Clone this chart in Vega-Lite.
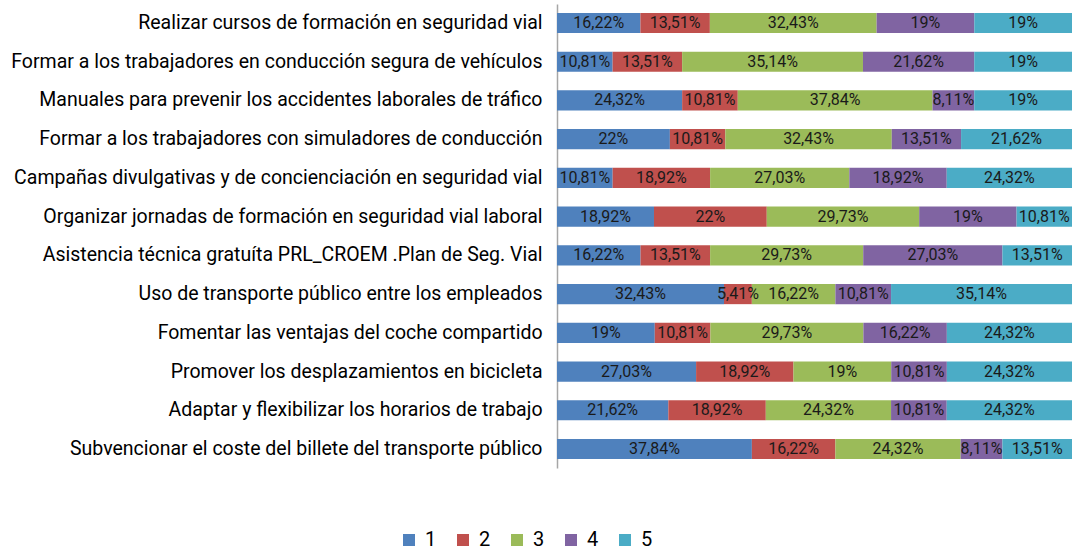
{
  "$schema": "https://vega.github.io/schema/vega-lite/v6.json",
  "width": 515,
  "height": 464,
  "autosize": "none",
  "padding": {"left": 557, "top": 4, "right": 11, "bottom": 82},
  "background": "white",
  "config": {"view": {"stroke": null}, "font": "Roboto"},
  "data": {"values": [
    {"cat": "Realizar cursos de formación en seguridad vial", "s": "1", "p": 16.22},
    {"cat": "Realizar cursos de formación en seguridad vial", "s": "2", "p": 13.51},
    {"cat": "Realizar cursos de formación en seguridad vial", "s": "3", "p": 32.43},
    {"cat": "Realizar cursos de formación en seguridad vial", "s": "4", "p": 19},
    {"cat": "Realizar cursos de formación en seguridad vial", "s": "5", "p": 19},
    {"cat": "Formar a los trabajadores en conducción segura de vehículos", "s": "1", "p": 10.81},
    {"cat": "Formar a los trabajadores en conducción segura de vehículos", "s": "2", "p": 13.51},
    {"cat": "Formar a los trabajadores en conducción segura de vehículos", "s": "3", "p": 35.14},
    {"cat": "Formar a los trabajadores en conducción segura de vehículos", "s": "4", "p": 21.62},
    {"cat": "Formar a los trabajadores en conducción segura de vehículos", "s": "5", "p": 19},
    {"cat": "Manuales para prevenir los accidentes laborales de tráfico", "s": "1", "p": 24.32},
    {"cat": "Manuales para prevenir los accidentes laborales de tráfico", "s": "2", "p": 10.81},
    {"cat": "Manuales para prevenir los accidentes laborales de tráfico", "s": "3", "p": 37.84},
    {"cat": "Manuales para prevenir los accidentes laborales de tráfico", "s": "4", "p": 8.11},
    {"cat": "Manuales para prevenir los accidentes laborales de tráfico", "s": "5", "p": 19},
    {"cat": "Formar a los trabajadores con simuladores de conducción", "s": "1", "p": 22},
    {"cat": "Formar a los trabajadores con simuladores de conducción", "s": "2", "p": 10.81},
    {"cat": "Formar a los trabajadores con simuladores de conducción", "s": "3", "p": 32.43},
    {"cat": "Formar a los trabajadores con simuladores de conducción", "s": "4", "p": 13.51},
    {"cat": "Formar a los trabajadores con simuladores de conducción", "s": "5", "p": 21.62},
    {"cat": "Campañas divulgativas y de concienciación en seguridad vial", "s": "1", "p": 10.81},
    {"cat": "Campañas divulgativas y de concienciación en seguridad vial", "s": "2", "p": 18.92},
    {"cat": "Campañas divulgativas y de concienciación en seguridad vial", "s": "3", "p": 27.03},
    {"cat": "Campañas divulgativas y de concienciación en seguridad vial", "s": "4", "p": 18.92},
    {"cat": "Campañas divulgativas y de concienciación en seguridad vial", "s": "5", "p": 24.32},
    {"cat": "Organizar jornadas de formación en seguridad vial laboral", "s": "1", "p": 18.92},
    {"cat": "Organizar jornadas de formación en seguridad vial laboral", "s": "2", "p": 22},
    {"cat": "Organizar jornadas de formación en seguridad vial laboral", "s": "3", "p": 29.73},
    {"cat": "Organizar jornadas de formación en seguridad vial laboral", "s": "4", "p": 19},
    {"cat": "Organizar jornadas de formación en seguridad vial laboral", "s": "5", "p": 10.81},
    {"cat": "Asistencia técnica gratuíta  PRL_CROEM .Plan de Seg. Vial", "s": "1", "p": 16.22},
    {"cat": "Asistencia técnica gratuíta  PRL_CROEM .Plan de Seg. Vial", "s": "2", "p": 13.51},
    {"cat": "Asistencia técnica gratuíta  PRL_CROEM .Plan de Seg. Vial", "s": "3", "p": 29.73},
    {"cat": "Asistencia técnica gratuíta  PRL_CROEM .Plan de Seg. Vial", "s": "4", "p": 27.03},
    {"cat": "Asistencia técnica gratuíta  PRL_CROEM .Plan de Seg. Vial", "s": "5", "p": 13.51},
    {"cat": "Uso de transporte público entre los empleados", "s": "1", "p": 32.43},
    {"cat": "Uso de transporte público entre los empleados", "s": "2", "p": 5.41},
    {"cat": "Uso de transporte público entre los empleados", "s": "3", "p": 16.22},
    {"cat": "Uso de transporte público entre los empleados", "s": "4", "p": 10.81},
    {"cat": "Uso de transporte público entre los empleados", "s": "5", "p": 35.14},
    {"cat": "Fomentar las ventajas del coche compartido", "s": "1", "p": 19},
    {"cat": "Fomentar las ventajas del coche compartido", "s": "2", "p": 10.81},
    {"cat": "Fomentar las ventajas del coche compartido", "s": "3", "p": 29.73},
    {"cat": "Fomentar las ventajas del coche compartido", "s": "4", "p": 16.22},
    {"cat": "Fomentar las ventajas del coche compartido", "s": "5", "p": 24.32},
    {"cat": "Promover los desplazamientos en bicicleta", "s": "1", "p": 27.03},
    {"cat": "Promover los desplazamientos en bicicleta", "s": "2", "p": 18.92},
    {"cat": "Promover los desplazamientos en bicicleta", "s": "3", "p": 19},
    {"cat": "Promover los desplazamientos en bicicleta", "s": "4", "p": 10.81},
    {"cat": "Promover los desplazamientos en bicicleta", "s": "5", "p": 24.32},
    {"cat": "Adaptar y flexibilizar los horarios de trabajo", "s": "1", "p": 21.62},
    {"cat": "Adaptar y flexibilizar los horarios de trabajo", "s": "2", "p": 18.92},
    {"cat": "Adaptar y flexibilizar los horarios de trabajo", "s": "3", "p": 24.32},
    {"cat": "Adaptar y flexibilizar los horarios de trabajo", "s": "4", "p": 10.81},
    {"cat": "Adaptar y flexibilizar los horarios de trabajo", "s": "5", "p": 24.32},
    {"cat": "Subvencionar  el coste del billete del transporte público", "s": "1", "p": 37.84},
    {"cat": "Subvencionar  el coste del billete del transporte público", "s": "2", "p": 16.22},
    {"cat": "Subvencionar  el coste del billete del transporte público", "s": "3", "p": 24.32},
    {"cat": "Subvencionar  el coste del billete del transporte público", "s": "4", "p": 8.11},
    {"cat": "Subvencionar  el coste del billete del transporte público", "s": "5", "p": 13.51}
  ]},
  "transform": [
    {"stack": "p", "groupby": ["cat"], "sort": [{"field": "s"}], "as": ["x0", "x1"], "offset": "normalize"},
    {"calculate": "(datum.x0 + datum.x1) / 2", "as": "xm"},
    {"calculate": "replace(format(datum.p, '.2~f'), '.', ',') + '%'", "as": "lbl"}
  ],
  "encoding": {
    "y": {
      "field": "cat", "type": "nominal", "sort": null,
      "scale": {"paddingInner": 0.48, "paddingOuter": 0.23},
      "axis": {"title": null, "ticks": false, "labelFontSize": 19.5, "labelColor": "#000000", "labelPadding": 15, "labelLimit": 700, "domainColor": "#a6a6a6", "domainWidth": 1.5, "grid": false}
    }
  },
  "layer": [
    {
      "mark": {"type": "bar"},
      "encoding": {
        "x": {"field": "x0", "type": "quantitative", "scale": {"domain": [0, 1], "nice": false}, "axis": null},
        "x2": {"field": "x1"},
        "color": {
          "field": "s", "type": "nominal",
          "scale": {"domain": ["1", "2", "3", "4", "5"], "range": ["#4F81BD", "#C0504D", "#9BBB59", "#8064A2", "#4BACC6"]},
          "legend": {"title": null, "orient": "none", "direction": "horizontal", "legendX": -158, "legendY": 526, "symbolType": "square", "symbolSize": 144, "symbolStrokeWidth": 0, "symbolOpacity": 1, "labelFontSize": 20, "labelColor": "#000000", "columnPadding": 16, "labelOffset": 6}
        }
      }
    },
    {
      "mark": {"type": "text", "fontSize": 16, "color": "#1a1a1a", "baseline": "middle", "align": "center"},
      "encoding": {
        "x": {"field": "xm", "type": "quantitative"},
        "text": {"field": "lbl"}
      }
    }
  ]
}
